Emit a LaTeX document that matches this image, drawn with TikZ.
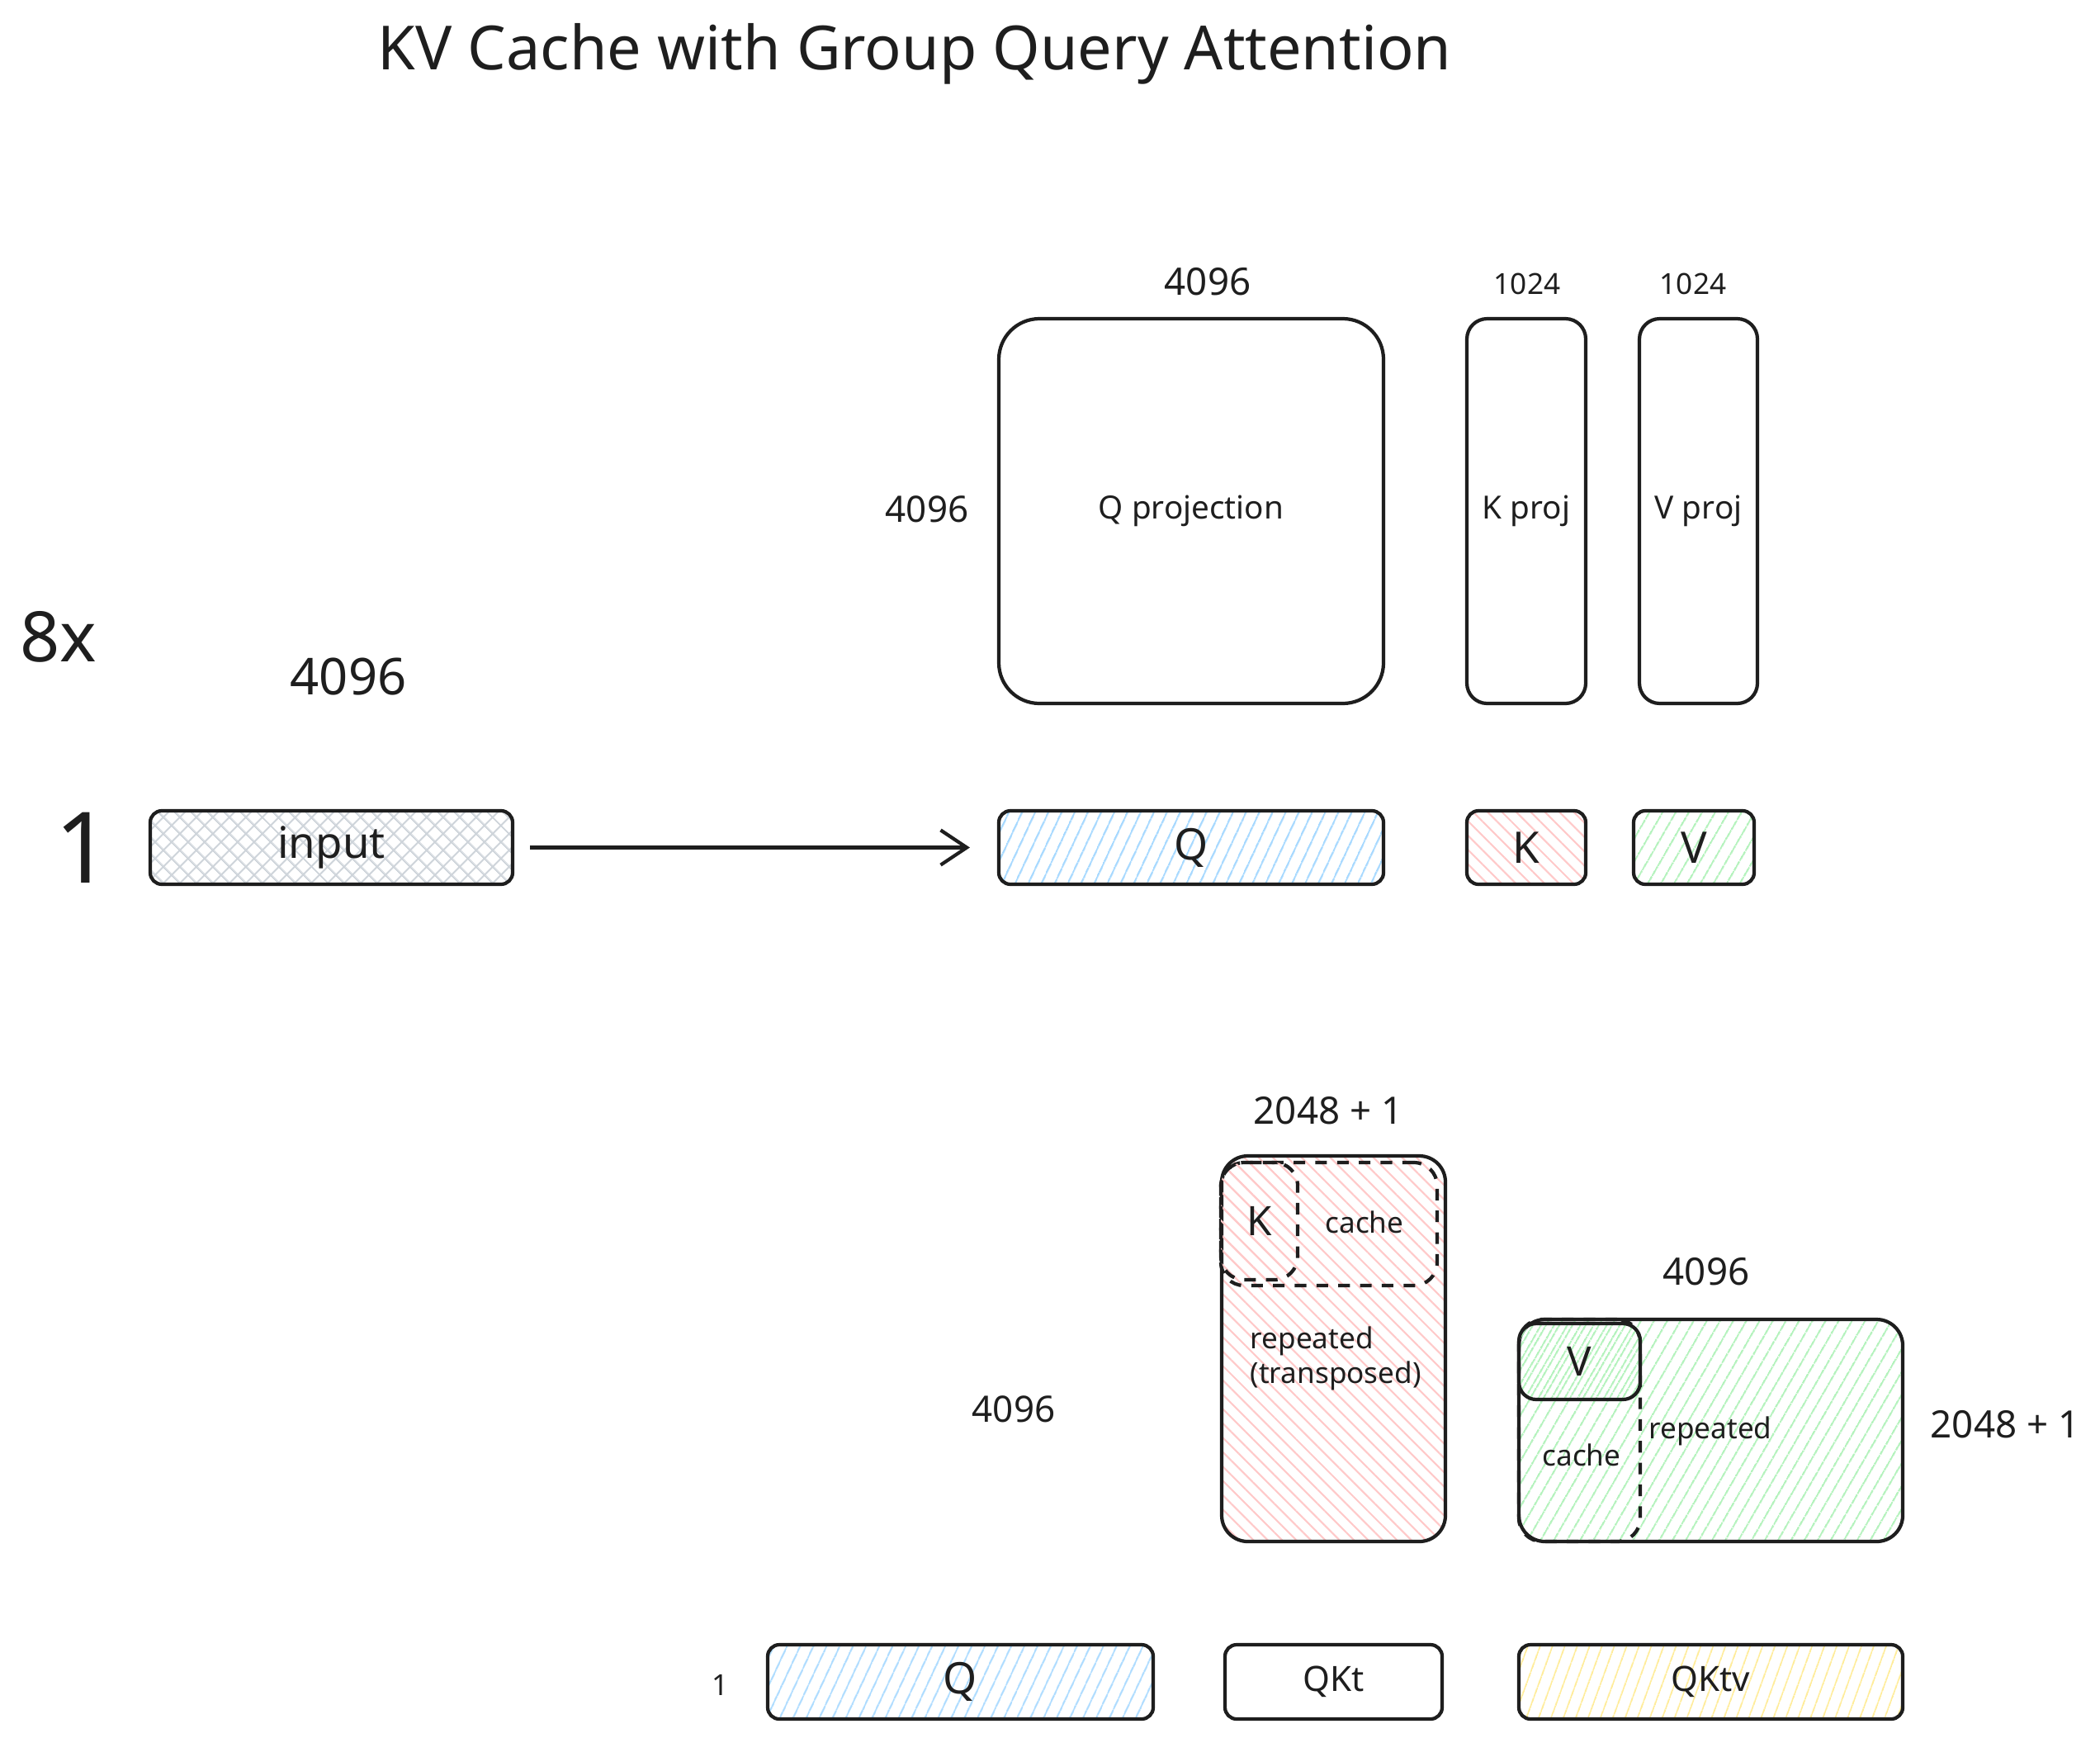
\documentclass[tikz,border=0pt]{standalone}
\usepackage{fontspec}
\setmainfont{Noto Sans}
\usetikzlibrary{patterns.meta,arrows.meta}

\definecolor{ink}{HTML}{1E1E1E}
\definecolor{hblue}{HTML}{A5D8FF}
\definecolor{hred}{HTML}{FFC9C9}
\definecolor{hgreen}{HTML}{B2F2BB}
\definecolor{hyellow}{HTML}{FFEC99}
\definecolor{hgray}{HTML}{CED4DA}

\begin{document}
\begin{tikzpicture}[
    box/.style={draw=ink, line width=1.2pt, rounded corners=#1, inner sep=0pt, text=ink},
    box/.default=4pt,
    dashbox/.style={draw=ink, line width=1.2pt, rounded corners=8pt, dash pattern=on 4pt off 3.5pt, inner sep=0pt},
    lbl/.style={text=ink, inner sep=0pt, font=\fontsize{#1}{#1}\selectfont},
    lbl/.default=11,
    bhatch/.style={pattern={Lines[angle=65,distance=4pt,line width=0.6pt]}, pattern color=hblue},
    rhatch/.style={pattern={Lines[angle=-45,distance=3.5pt,line width=0.6pt]}, pattern color=hred},
    ghatch/.style={pattern={Lines[angle=60,distance=4pt,line width=0.6pt]}, pattern color=hgreen},
    yhatch/.style={pattern={Lines[angle=70,distance=4pt,line width=0.6pt]}, pattern color=hyellow},
    xhatch/.style={pattern={Hatch[angle=45,distance=4pt,line width=0.6pt]}, pattern color=hgray},
    arrow/.style={draw=ink, line width=1.2pt, -{Straight Barb[length=9pt,width=12pt]}}
  ]
  \useasboundingbox (0,0) rectangle (25.44,-21.04);

  \node[lbl=21] (title) at (11.08,-0.65) {KV Cache with Group Query Attention};

  % weights
  \node[box=14pt, minimum width=4.66cm, minimum height=4.66cm, lbl] (qproj) at (14.43,-6.19) {Q projection};
  \node[box=7pt, minimum width=1.44cm, minimum height=4.66cm, lbl] (kproj) at (18.49,-6.19) {K proj};
  \node[box=7pt, minimum width=1.43cm, minimum height=4.66cm, lbl] (vproj) at (20.575,-6.19) {V proj};

  \node[lbl=13] (qprojw) at (14.63,-3.41) {4096};
  \node[lbl=10] (kprojw) at (18.50,-3.44) {1024};
  \node[lbl=10] (vprojw) at (20.51,-3.44) {1024};
  \node[lbl=12.5] (qprojh) at (11.23,-6.17) {4096};

  % input row
  \node[lbl=24] (heads) at (0.71,-7.71) {8x};
  \node[lbl=17.5] (inputw) at (4.22,-8.19) {4096};
  \node[lbl=34, font=\bfseries\fontsize{34}{34}\selectfont] (seqone) at (1.01,-10.27) {1};

  \node[box, minimum width=4.39cm, minimum height=0.89cm, xhatch, lbl=15] (input) at (4.015,-10.265) {input};
  \node[box, minimum width=4.66cm, minimum height=0.89cm, bhatch, lbl=15, font=\bfseries\fontsize{15}{15}\selectfont] (q) at (14.43,-10.265) {Q};
  \node[box, minimum width=1.44cm, minimum height=0.89cm, rhatch, lbl=15, font=\bfseries\fontsize{15}{15}\selectfont] (k) at (18.49,-10.265) {K};
  \node[box, minimum width=1.46cm, minimum height=0.89cm, ghatch, lbl=15, font=\bfseries\fontsize{15}{15}\selectfont] (v) at (20.52,-10.265) {V};

  \draw[arrow, shorten <=0.2cm, shorten >=0.34cm] (input.east) -- (q.west);

  % K cache
  \node[lbl=13] (kcachew) at (16.09,-13.45) {2048 + 1};
  \node[lbl=12.5] (kcacheh) at (12.28,-17.07) {4096};
  \node[box=9pt, minimum width=2.71cm, minimum height=4.67cm, rhatch] (kfull) at (16.155,-16.335) {};
  \node[dashbox, minimum width=2.62cm, minimum height=1.49cm] (kcache) at (16.10,-14.825) {};
  \node[dashbox, minimum width=0.93cm, minimum height=1.42cm, rhatch, lbl=14, font=\bfseries\fontsize{14}{14}\selectfont] (knew) at (15.255,-14.79) {K};
  \node[lbl=10] (kcachelbl) at (16.53,-14.80) {cache};
  \node[lbl=10, anchor=west, align=left, font=\fontsize{10}{12}\selectfont] (krep) at (15.14,-16.45) {repeated\\(transposed)};

  % V cache
  \node[lbl=13] (vcachew) at (20.67,-15.40) {4096};
  \node[lbl=13] (vcacheh) at (24.29,-17.25) {2048 + 1};
  \node[box=9pt, minimum width=4.65cm, minimum height=2.69cm, ghatch] (vfull) at (20.725,-17.325) {};
  \node[dashbox, minimum width=1.47cm, minimum height=2.69cm] (vcache) at (19.135,-17.325) {};
  \node[box=6pt, minimum width=1.47cm, minimum height=0.92cm, ghatch, lbl=14, font=\bfseries\fontsize{14}{14}\selectfont] (vnew) at (19.135,-16.49) {V};
  \node[lbl=10] (vcachelbl) at (19.16,-17.62) {cache};
  \node[lbl=10] (vrep) at (20.72,-17.33) {repeated};

  % output row
  \node[lbl=10] (lastone) at (8.73,-20.41) {1};
  \node[box, minimum width=4.67cm, minimum height=0.90cm, bhatch, lbl=15, font=\bfseries\fontsize{15}{15}\selectfont] (qlast) at (11.635,-20.37) {Q};
  \node[box, minimum width=2.63cm, minimum height=0.90cm, lbl=12] (qkt) at (16.155,-20.37) {QKt};
  \node[box, minimum width=4.65cm, minimum height=0.90cm, yhatch, lbl=12] (qktv) at (20.725,-20.37) {QKtv};
\end{tikzpicture}
\end{document}
